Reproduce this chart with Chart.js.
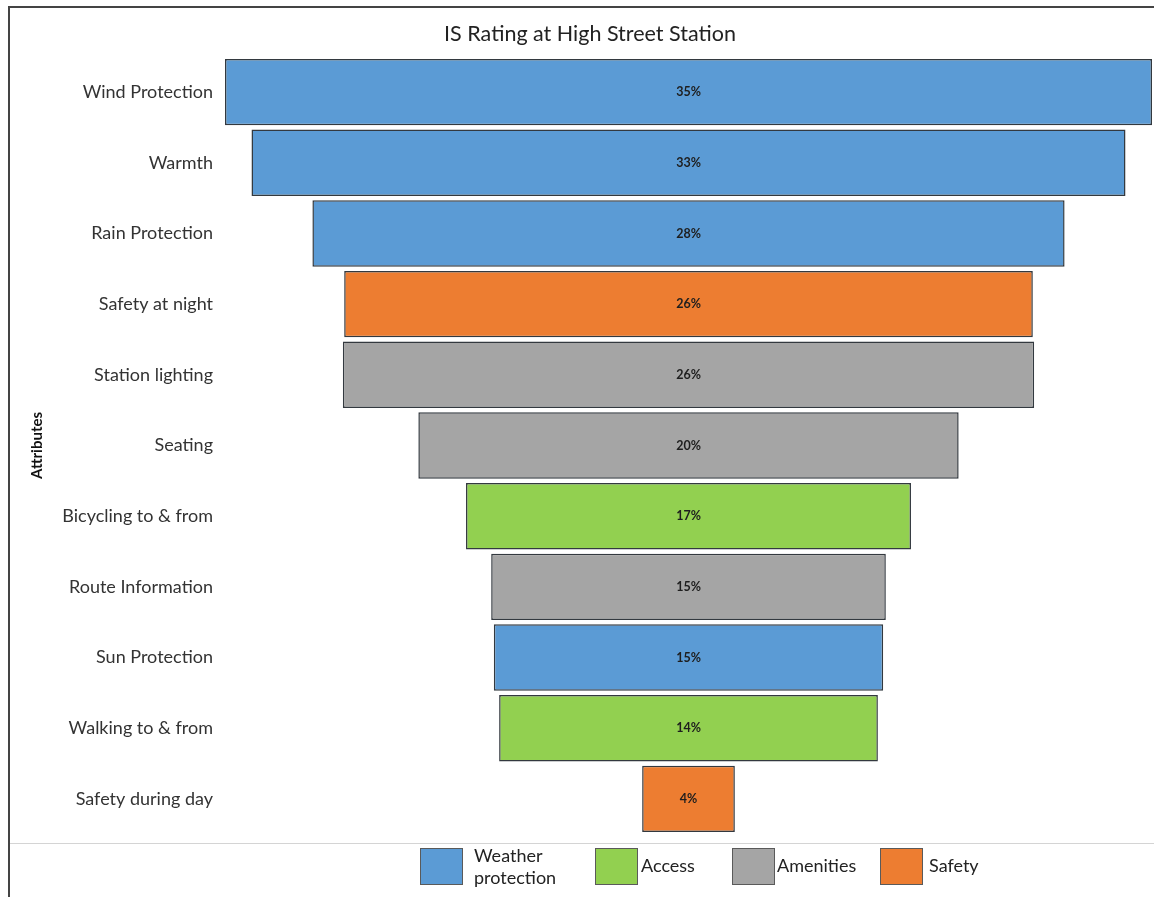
<!DOCTYPE html>
<html>
<head>
<meta charset="utf-8">
<script src="https://cdn.jsdelivr.net/npm/chart.js@4.4.1/dist/chart.umd.min.js"></script>
<style>
  body { margin: 0; background: #fff; font-family: Lato, "Open Sans", sans-serif; }
  #frame { position: absolute; left: 8px; top: 6px; width: 1146px; height: 891px;
           border-left: 2px solid #444; border-top: 2px solid #444; }
  #wrap { position: absolute; left: 10px; top: 8px; width: 1144px; height: 849px; }
  #sep { position: absolute; left: 10px; top: 843px; width: 1144px; height: 0;
         border-top: 1.5px solid #d4d4d4; }
  .lg-box { position: absolute; top: 848px; width: 41px; height: 35px; border: 1px solid #5a5a5a; }
  .lg-txt { position: absolute; font-size: 18px; color: #222; line-height: 22px; }
</style>
</head>
<body>
<div id="frame"></div>
<div id="wrap"><canvas id="myChart"></canvas></div>
<div id="sep"></div>
<div id="legend"></div>
<script>
// categories, top to bottom
const categories = [
  "Wind Protection", "Warmth", "Rain Protection", "Safety at night", "Station lighting",
  "Seating", "Bicycling to & from", "Route Information", "Sun Protection",
  "Walking to & from", "Safety during day"
];
// share of respondents (%)
const values = [35, 33, 28.4, 26, 26.1, 20.4, 16.8, 14.9, 14.7, 14.3, 3.5];
// attribute group of each category
const groups = [
  "Weather protection", "Weather protection", "Weather protection", "Safety", "Amenities",
  "Amenities", "Access", "Amenities", "Weather protection", "Access", "Safety"
];
const groupNames = ["Weather protection", "Access", "Amenities", "Safety"];
const groupColors = ["#5B9BD5", "#92D050", "#A5A5A5", "#ED7D31"];

// one dataset per group, bars centred on zero to make the funnel
const datasets = groupNames.map((g, gi) => ({
  label: g,
  data: values.map((v, i) => (groups[i] === g ? [-v / 2, v / 2] : null)),
  backgroundColor: groupColors[gi],
  borderColor: "#33393f",
  borderWidth: 1.5,
  borderSkipped: false,
  categoryPercentage: 1,
  barPercentage: 0.94,
}));

// percentage labels in the middle of each bar
const barLabels = {
  id: "barLabels",
  afterDatasetsDraw(chart) {
    const ctx = chart.ctx;
    ctx.save();
    ctx.font = "bold 12.5px Lato, sans-serif";
    ctx.fillStyle = "#1e1e1e";
    ctx.textAlign = "center";
    ctx.textBaseline = "middle";
    chart.data.datasets.forEach((ds, di) => {
      chart.getDatasetMeta(di).data.forEach((bar, i) => {
        if (!ds.data[i]) return;
        ctx.fillText(Math.round(values[i]) + "%", chart.scales.x.getPixelForValue(0), bar.y);
      });
    });
    ctx.restore();
  },
};

const ctx = document.getElementById("myChart").getContext("2d");
new Chart(ctx, {
  type: "bar",
  data: { labels: categories, datasets: datasets },
  plugins: [barLabels],
  options: {
    indexAxis: "y",
    responsive: true,
    maintainAspectRatio: false,
    animation: false,
    grouped: false,
    layout: { padding: { left: 18, right: 2, top: 0, bottom: 10 } },
    plugins: {
      legend: { display: false },
      tooltip: { enabled: false },
      title: {
        display: true,
        text: "IS Rating at High Street Station",
        color: "#222",
        font: { family: "Lato", size: 21.5, weight: "normal" },
        padding: { top: 13, bottom: 10 },
      },
    },
    scales: {
      x: { display: false, min: -17.5, max: 17.5 },
      y: {
        afterFit: (s) => { s.width = 197; },
        grid: { display: false, drawTicks: false },
        border: { display: false },
        ticks: { color: "#333", padding: 12, font: { family: "Lato", size: 18 } },
        title: {
          display: true,
          text: "Attributes",
          color: "#111",
          font: { family: "Lato", size: 15, weight: "bold" },
          padding: { top: 0, bottom: 0 },
        },
      },
    },
  },
});

// legend below the chart
const legendPos = [
  { box: 420, txt: 474, lines: ["Weather", "protection"] },
  { box: 595, txt: 641, lines: ["Access"] },
  { box: 732, txt: 777, lines: ["Amenities"] },
  { box: 880, txt: 929, lines: ["Safety"] },
];
const legend = document.getElementById("legend");
groupNames.forEach((g, gi) => {
  const p = legendPos[gi];
  const box = document.createElement("div");
  box.className = "lg-box";
  box.style.left = p.box + "px";
  box.style.background = groupColors[gi];
  legend.appendChild(box);
  const txt = document.createElement("div");
  txt.className = "lg-txt";
  txt.style.left = p.txt + "px";
  txt.style.top = (p.lines.length > 1 ? 844 : 854) + "px";
  txt.innerHTML = p.lines.join("<br>");
  legend.appendChild(txt);
});
</script>
</body>
</html>
